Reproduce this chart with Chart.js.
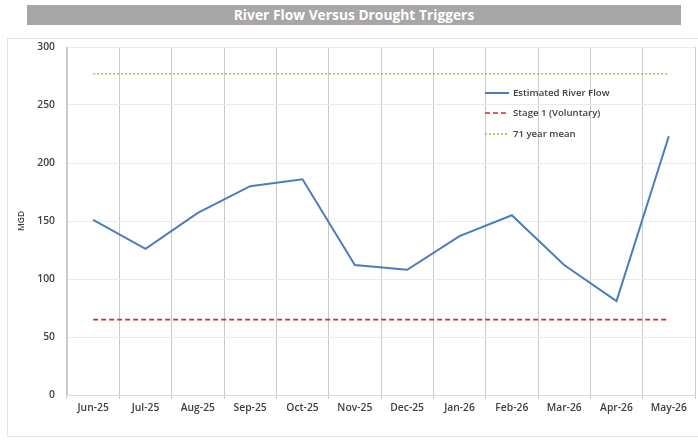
<!DOCTYPE html>
<html>
<head>
<meta charset="utf-8">
<script src="https://cdn.jsdelivr.net/npm/chart.js@4"></script>
<style>
  html, body { margin: 0; padding: 0; background: #ffffff; }
  #wrap { position: relative; width: 698px; height: 440px; overflow: hidden; }
  #titlebar {
    position: absolute; left: 27px; top: 5px; width: 654px; height: 20px;
    background: #a9a6a7; color: #ffffff; font-family: "Open Sans", "Liberation Sans", sans-serif;
    font-weight: bold; font-size: 13.8px; line-height: 20px; text-align: center;
  }
  #frame {
    position: absolute; left: 7px; top: 38px; width: 700px; height: 399px;
    border: 1px solid #e4e4e4; box-sizing: border-box;
  }
  #c { position: absolute; left: 0; top: 0; }
</style>
</head>
<body>
<div id="wrap">
  <div id="titlebar">River Flow Versus Drought Triggers</div>
  <div id="frame"></div>
  <canvas id="c" width="698" height="440"></canvas>
</div>
<script>
const months = ["Jun-25","Jul-25","Aug-25","Sep-25","Oct-25","Nov-25","Dec-25","Jan-26","Feb-26","Mar-26","Apr-26","May-26"];
const riverFlow = [151, 126, 157, 180, 186, 112, 108, 137, 155, 112, 81, 223];
const stage1 = [65, 65, 65, 65, 65, 65, 65, 65, 65, 65, 65, 65];
const yearMean = [277, 277, 277, 277, 277, 277, 277, 277, 277, 277, 277, 277];
const seriesNames = ["Estimated River Flow", "Stage 1 (Voluntary)", "71 year mean"];
const yAxisTitle = "MGD";

const FONT = '"Open Sans", "Liberation Sans", sans-serif';

const legendPlugin = {
  id: 'innerLegend',
  afterDraw(chart) {
    const ctx = chart.ctx;
    const x0 = 485, x1 = 509, tx = 513;
    const ys = [93, 113, 134];
    ctx.save();
    chart.data.datasets.forEach((ds, i) => {
      const y = ys[i];
      ctx.beginPath();
      ctx.strokeStyle = ds.borderColor;
      ctx.lineWidth = ds.borderWidth;
      ctx.setLineDash(ds.borderDash || []);
      ctx.moveTo(x0, y);
      ctx.lineTo(x1, y);
      ctx.stroke();
      ctx.setLineDash([]);
      ctx.fillStyle = '#404040';
      ctx.font = '600 9.6px ' + FONT;
      ctx.textBaseline = 'middle';
      ctx.textAlign = 'left';
      ctx.fillText(ds.label, tx, y);
    });
    ctx.restore();
  }
};

new Chart(document.getElementById('c'), {
  type: 'line',
  data: {
    labels: months,
    datasets: [
      { label: seriesNames[0], data: riverFlow, borderColor: '#4a7ebb', borderWidth: 2, pointRadius: 0, tension: 0, fill: false },
      { label: seriesNames[1], data: stage1, borderColor: '#e0262a', borderWidth: 1.6, borderDash: [5, 3], pointRadius: 0, fill: false },
      { label: seriesNames[2], data: yearMean, borderColor: '#a4be52', borderWidth: 1.6, borderDash: [2, 2], pointRadius: 0, fill: false }
    ]
  },
  options: {
    responsive: false,
    animation: false,
    events: [],
    layout: { padding: { left: 16, right: 3, top: 47, bottom: 0 } },
    plugins: { legend: { display: false }, tooltip: { enabled: false }, title: { display: false } },
    scales: {
      x: {
        offset: true,
        grid: { offset: true, color: '#cacaca', lineWidth: 1, drawTicks: true, tickLength: 4 },
        border: { color: '#d9d9d9' },
        ticks: { color: '#404040', font: { family: FONT, size: 10.3, weight: '600' }, padding: 3, maxRotation: 0, autoSkip: false },
        afterFit(scale) { scale.height = 45; }
      },
      y: {
        min: 0, max: 300,
        ticks: { stepSize: 50, color: '#404040', font: { family: FONT, size: 10.3, weight: '600' }, padding: 12 },
        grid: { color: '#ebebeb', lineWidth: 1, drawTicks: false },
        border: { color: '#cacaca' },
        title: { display: true, text: yAxisTitle, color: '#404040', font: { family: FONT, size: 8.5, weight: '600' }, padding: 0 },
        afterFit(scale) { scale.width = 51; }
      }
    }
  },
  plugins: [legendPlugin]
});
</script>
</body>
</html>
